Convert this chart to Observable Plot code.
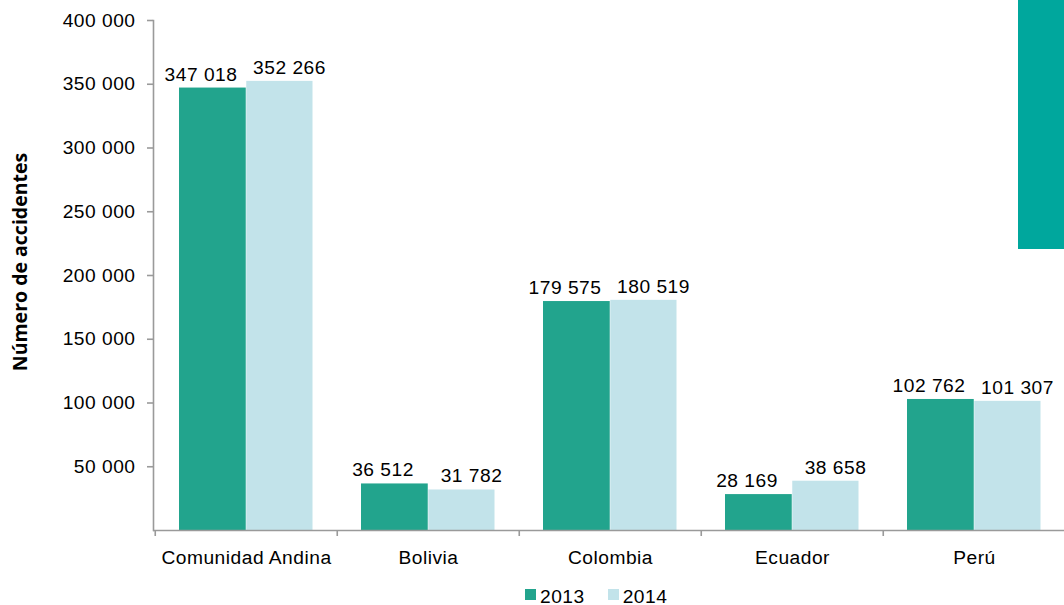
<!DOCTYPE html>
<html>
<head>
<meta charset="utf-8">
<script src="https://cdn.jsdelivr.net/npm/d3@7"></script>
<script src="https://cdn.jsdelivr.net/npm/@observablehq/plot@0.6"></script>
<style>
  body { margin: 0; background: #fff; overflow: hidden; }
  #wrap { position: relative; width: 1064px; height: 605px; font-family: "Liberation Sans", Arial, sans-serif; }
  #deco { position: absolute; left: 1018px; top: 0; width: 46px; height: 249px; background: #00A79D; z-index: 2; }
  #chart svg text { letter-spacing: 0.5px; }
  #chart svg text[transform*="rotate"] { letter-spacing: 0; }
  #legend { position: absolute; left: 525px; top: 588px; display: flex; align-items: flex-start;
            font-size: 19.2px; letter-spacing: 0.5px; line-height: 18px; color: #000; }
  #legend .sw { width: 11px; height: 11px; margin-top: 1px; margin-right: 4px; }
  #legend .item { display: flex; align-items: flex-start; margin-right: 23px; }
</style>
</head>
<body>
<div id="wrap">
  <div id="chart"></div>
  <div id="deco"></div>
  <div id="legend"></div>
</div>
<script>
const categories = ["Comunidad Andina", "Bolivia", "Colombia", "Ecuador", "Perú"];
const values2013 = [347018, 36512, 179575, 28169, 102762];
const values2014 = [352266, 31782, 180519, 38658, 101307];
const years = ["2013", "2014"];
const colors = ["#22A48D", "#C2E3EA"];
const yTicks = [50000, 100000, 150000, 200000, 250000, 300000, 350000, 400000];
const yLabel = "Número de accidentes";

const fmt = d3.formatLocale({thousands: " ", grouping: [3], decimal: ",", currency: ["", ""]}).format(",d");

const rows2013 = categories.map((c, i) => ({category: c, year: years[0], value: values2013[i]}));
const rows2014 = categories.map((c, i) => ({category: c, year: years[1], value: values2014[i]}));

const axisGray = "#9a9a9a";

const chart = Plot.plot({
  width: 1064,
  height: 580,
  marginLeft: 153,
  marginTop: 20,
  marginBottom: 50,
  marginRight: 0,
  style: {fontFamily: "'Liberation Sans', Arial, sans-serif", fontSize: "19.2px", color: "#000", overflow: "visible", background: "transparent"},
  x: {domain: categories, range: [153.3, 1065.8], padding: 0},
  y: {domain: [0, 400000]},
  color: {domain: years, range: colors},
  marks: [
    Plot.barY(rows2013, {x: "category", y: "value", fill: "year", insetLeft: 24, insetRight: 91.25}),
    Plot.barY(rows2014, {x: "category", y: "value", fill: "year", insetLeft: 91.25, insetRight: 24.5}),
    Plot.text(rows2013, {x: "category", y: "value", text: d => fmt(d.value), dx: -45.5, dy: -7.5, lineAnchor: "bottom", fill: "#000"}),
    Plot.text(rows2014, {x: "category", y: "value", text: d => fmt(d.value), dx: 43, dy: -7.5, lineAnchor: "bottom", fill: "#000"}),
    Plot.ruleY([0], {stroke: axisGray, strokeWidth: 1.6}),
    Plot.frame({anchor: "left", stroke: axisGray, strokeWidth: 1.6}),
    Plot.axisY({ticks: yTicks, tickFormat: fmt, tickSize: 6, tickPadding: 12, stroke: axisGray, strokeWidth: 1.6, label: null}),
    Plot.axisX({tickSize: 0, tickPadding: 20, label: null}),
    Plot.axisX({tickSize: 6, tickFormat: () => "", dx: -91.25, label: null, stroke: axisGray, strokeWidth: 1.6}),
    Plot.text([yLabel], {frameAnchor: "left", rotate: -90, dx: -133, dy: -13.5, fontFamily: "'Open Sans', sans-serif", fontWeight: 700, fontSize: 19.5, fill: "#000", lineAnchor: "middle", textAnchor: "middle"})
  ]
});
document.getElementById("chart").appendChild(chart);

const legend = document.getElementById("legend");
years.forEach((y, i) => {
  const item = document.createElement("div");
  item.className = "item";
  const sw = document.createElement("div");
  sw.className = "sw";
  sw.style.background = colors[i];
  const t = document.createElement("span");
  t.textContent = y;
  item.appendChild(sw);
  item.appendChild(t);
  legend.appendChild(item);
});
</script>
</body>
</html>
